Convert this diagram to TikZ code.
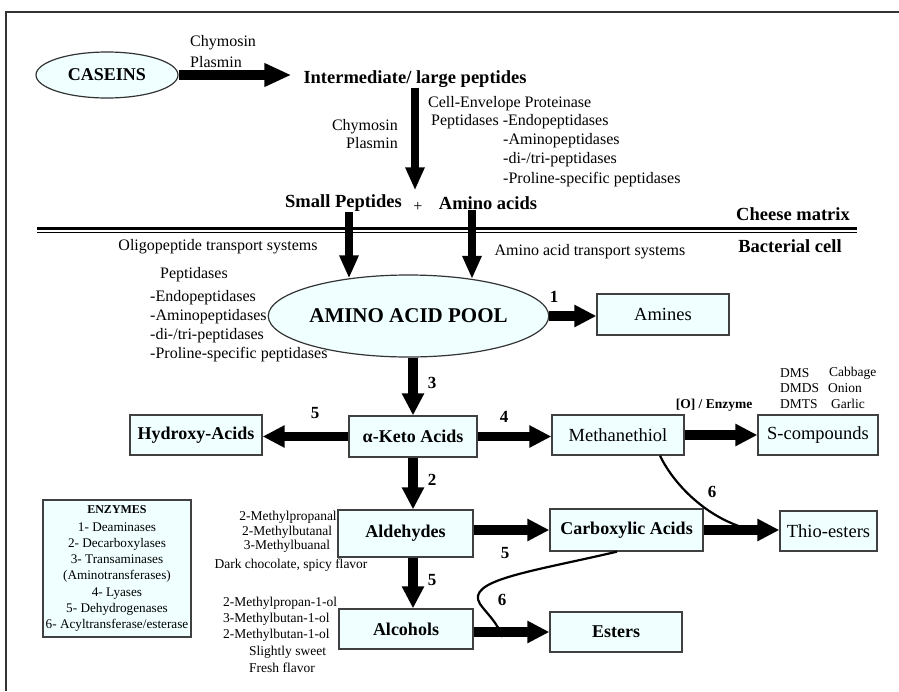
\documentclass[tikz,border=0pt]{standalone}
\usepackage{fontspec}
\setmainfont{Liberation Serif}
\usetikzlibrary{arrows.meta,shapes.geometric,calc}
\definecolor{boxfill}{HTML}{F0FFFF}
\newcommand\myfs[2]{\fontsize{#1}{#2}\selectfont}
\begin{document}
\begin{tikzpicture}[x=1pt,y=-1pt,
  box/.style={draw=black!75, line width=1.3pt, fill=boxfill, inner sep=0pt, font=\myfs{18.5}{22}},
  bbox/.style={box, font=\bfseries\myfs{18}{22}},
  lbl/.style={inner sep=0pt, font=\myfs{16}{19}},
  sm/.style={inner sep=0pt, font=\myfs{13.5}{16}},
  tiny/.style={inner sep=0pt, font=\myfs{13.5}{15}},
  num/.style={inner sep=0pt, font=\bfseries\myfs{17}{20}},
  ttl/.style={inner sep=0pt, font=\bfseries\myfs{18.5}{22}},
  arr/.style={line width=9.5pt, -{Triangle[length=22pt,width=21pt]}},
  varr/.style={line width=8pt, -{Triangle[length=23pt,width=18pt]}},
  carr/.style={line width=10pt, -{Triangle[length=27pt,width=22pt]}},
  curv/.style={line width=2.2pt},
]
\useasboundingbox (0,0) rectangle (899,691);
% frame
\draw[black!80, line width=1.5pt] (6,691) -- (6,12) -- (899,12);
% membrane
\draw[line width=2.6pt] (37,228.5) -- (857,228.5);
\draw[line width=1.3pt] (37,232.6) -- (857,232.6);

% top part
\node[draw=black!80, line width=1.2pt, fill=boxfill, ellipse, minimum width=142pt, minimum height=46pt, inner sep=0pt, font=\bfseries\myfs{18}{21}] (caseins) at (107,75) {CASEINS};
\node[ttl] (inter) at (415,79) {Intermediate/ large peptides};
\node[lbl, anchor=west] (chy1) at (190,43) {Chymosin};
\node[lbl, anchor=west] (pla1) at (190,62) {Plasmin};
\node[lbl, anchor=east] (chy2) at (398,127) {Chymosin};
\node[lbl, anchor=east] (pla2) at (398,143) {Plasmin};
\node[lbl, anchor=west] (cep) at (428,104) {Cell-Envelope Proteinase};
\node[lbl, anchor=west] (pep1) at (431,122) {Peptidases -Endopeptidases};
\node[lbl, anchor=west] (pep2) at (503,141) {-Aminopeptidases};
\node[lbl, anchor=west] (pep3) at (503,160) {-di-/tri-peptidases};
\node[lbl, anchor=west] (pep4) at (503,180) {-Proline-specific peptidases};
\node[ttl] (smallpep) at (343.5,203) {Small Peptides};
\node[lbl] (plus) at (418,207) {+};
\node[ttl] (aminoac) at (488,203) {Amino acids};
\node[ttl] (cheese) at (793,214) {Cheese matrix};
\node[ttl] (bact) at (790,246) {Bacterial cell};
\node[lbl] (oligo) at (218,247) {Oligopeptide transport systems};
\node[lbl] (aats) at (590,252) {Amino acid transport systems};
\node[lbl, anchor=west] (peps) at (160,275) {Peptidases};
\node[lbl, anchor=west] (ps1) at (150,298) {-Endopeptidases};
\node[lbl, anchor=west] (ps2) at (150,317) {-Aminopeptidases};
\node[lbl, anchor=west] (ps3) at (150,336) {-di-/tri-peptidases};
\node[lbl, anchor=west] (ps4) at (150,355) {-Proline-specific peptidases};

% pool and products
\node[draw=black!80, line width=1.2pt, fill=boxfill, ellipse, minimum width=263pt, minimum height=82pt, inner sep=0pt, font=\bfseries\myfs{21}{24}] (pool) at (408.5,316) {AMINO ACID POOL};
\node[box, minimum width=132pt, minimum height=41pt] (amines) at (663,314.5) {Amines};
\node[bbox, minimum width=128pt, minimum height=41pt] (keto) at (413,436.5) {α-Keto Acids};
\node[bbox, minimum width=132pt, minimum height=40pt] (hydroxy) at (196,435) {Hydroxy-Acids};
\node[box, minimum width=132pt, minimum height=40pt] (meth) at (618,435) {Methanethiol};
\node[box, minimum width=120pt, minimum height=40pt] (scomp) at (818,435) {S-compounds};
\node[bbox, minimum width=135pt, minimum height=47pt] (ald) at (405.5,533.5) {Aldehydes};
\node[bbox, minimum width=134pt, minimum height=40pt] (alc) at (406,629) {Alcohols};
\node[bbox, minimum width=153pt, minimum height=42pt] (carb) at (626.5,530) {Carboxylic Acids};
\node[box, minimum width=97pt, minimum height=40pt] (thio) at (828.5,531) {Thio-esters};
\node[bbox, minimum width=132pt, minimum height=40pt] (esters) at (616,632) {Esters};

% enzymes
\node[box, font=\myfs{13.2}{16.3}, align=center, minimum width=148pt, minimum height=137pt] (enz) at (117,568.5)
  {\textbf{\myfs{12}{16.3}ENZYMES}\\[1.5pt]1- Deaminases\\2- Decarboxylases\\3- Transaminases\\(Aminotransferases)\\4- Lyases\\5- Dehydrogenases\\6- Acyltransferase/esterase};

% small texts
\node[tiny, anchor=west] (dms) at (780,373) {DMS};
\node[tiny, anchor=west] (cab) at (829,373) {Cabbage};
\node[tiny, anchor=west] (dmds) at (780,388) {DMDS};
\node[tiny, anchor=west] (oni) at (828,388) {Onion};
\node[tiny, anchor=west] (dmts) at (780,404) {DMTS};
\node[tiny, anchor=west] (gar) at (831,404) {Garlic};
\node[inner sep=0pt, font=\bfseries\myfs{13.5}{16}] (oenz) at (714,405) {[O] / Enzyme};
\node[sm] (a1) at (288,517) {2-Methylpropanal};
\node[sm] (a2) at (287,532) {2-Methylbutanal};
\node[sm] (a3) at (287,546) {3-Methylbuanal};
\node[sm] (a4) at (291,565) {Dark chocolate, spicy flavor};
\node[sm, anchor=west] (b1) at (223,603) {2-Methylpropan-1-ol};
\node[sm, anchor=west] (b2) at (223,619) {3-Methylbutan-1-ol};
\node[sm, anchor=west] (b3) at (223,635) {2-Methylbutan-1-ol};
\node[sm, anchor=west] (b4) at (249,652) {Slightly sweet};
\node[sm, anchor=west] (b5) at (249,668) {Fresh flavor};

% numbers
\node[num] (n1) at (554,297) {1};
\node[num] (n3) at (432,383) {3};
\node[num] (n5a) at (315,413) {5};
\node[num] (n4) at (504,417) {4};
\node[num] (n2) at (432,480) {2};
\node[num] (n5b) at (432,580) {5};
\node[num] (n6a) at (712,492) {6};
\node[num] (n5c) at (505,553) {5};
\node[num] (n6b) at (502,600) {6};

% arrows top
\draw[carr] (caseins.east) -- ([xshift=-12pt]inter.west |- caseins.east);
\draw[varr] (inter.south) -- ([yshift=12pt]inter.south |- plus.north);
\draw[varr] ([xshift=5.5pt]smallpep.south) -- ([xshift=5.5pt]smallpep.south |- pool.148);
\draw[varr] ([xshift=-16pt]aminoac.south) -- ([xshift=-16pt]aminoac.south |- pool.30);

% arrows lower
\draw[arr] (pool.east) -- (pool.east -| amines.west);
\draw[arr] ([xshift=4.5pt]pool.south) -- ([xshift=4.5pt]pool.south |- keto.north);
\draw[arr] (keto.west) -- (keto.west -| hydroxy.east);
\draw[arr] (keto.east) -- (keto.east -| meth.west);
\draw[arr] (meth.east) -- (meth.east -| scomp.west);
\draw[arr] (keto.south) -- (keto.south |- ald.north);
\draw[arr] (keto.south |- ald.south) -- (keto.south |- alc.north);
\draw[arr] (carb.west -| ald.east) -- (carb.west);
\draw[arr] (carb.east) -- (carb.east -| thio.west);
\draw[arr] (esters.west -| alc.east) -- (esters.west);

% curves
\coordinate (j1) at ([xshift=-22pt]thio.west);
\coordinate (j2) at ([xshift=-47pt,yshift=-5pt]esters.west);
\draw[curv] ([xshift=42pt]meth.south) .. controls (675,487) and (712,523) .. (j1);
\draw[curv] ([xshift=-9.5pt]carb.south) .. controls (530,572) and (465,580) .. (480,604) .. controls (488,615) and (497,622) .. (j2);
\end{tikzpicture}
\end{document}
